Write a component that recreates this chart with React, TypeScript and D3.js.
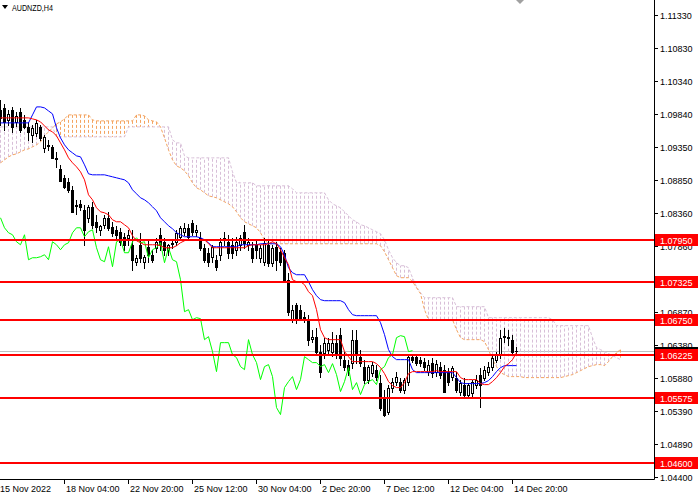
import React from "react";
import * as d3 from "d3";

// AUDNZD H4 candles, 15 Nov - 15 Dec 2022
const openPrices = [
  1.09905, 1.09935, 1.09755, 1.09905, 1.09725, 1.09875, 1.09755, 1.09650, 1.09530, 1.09560,
  1.09650, 1.09335, 1.09380, 1.09350, 1.09185, 1.09020, 1.08885, 1.08825, 1.08705, 1.08480,
  1.08495, 1.08405, 1.08285, 1.08450, 1.08225, 1.08105, 1.08180, 1.08285, 1.08150, 1.08105,
  1.08075, 1.08000, 1.07985, 1.07880, 1.07625, 1.07880, 1.07625, 1.07850, 1.07730, 1.07835,
  1.08030, 1.07925, 1.07805, 1.07895, 1.07925, 1.08000, 1.08075, 1.08135, 1.08210, 1.08075,
  1.07985, 1.07835, 1.07760, 1.07700, 1.07655, 1.07730, 1.07985, 1.07925, 1.07880, 1.07805,
  1.07880, 1.08075, 1.07880, 1.07835, 1.07880, 1.07685, 1.07625, 1.07880, 1.07610, 1.07850,
  1.07775, 1.07760, 1.07355, 1.06755, 1.06980, 1.06905, 1.06800, 1.06755, 1.06470, 1.06500,
  1.06275, 1.06260, 1.06305, 1.06275, 1.06410, 1.06530, 1.06155, 1.06080, 1.06110, 1.06455,
  1.06200, 1.06050, 1.05855, 1.05960, 1.06005, 1.05810, 1.05600, 1.05375, 1.05735, 1.05825,
  1.05825, 1.05705, 1.05825, 1.06200, 1.06200, 1.06155, 1.06125, 1.05975, 1.06110, 1.05975,
  1.06050, 1.06005, 1.05975, 1.05900, 1.05885, 1.05675, 1.05780, 1.05630, 1.05660, 1.05780,
  1.05930, 1.05885, 1.05975, 1.06050, 1.06155, 1.06230, 1.06500, 1.06485, 1.06455, 1.06290,
];
const highPrices = [
  1.10055, 1.09995, 1.09905, 1.09950, 1.09875, 1.09935, 1.09830, 1.09725, 1.09680, 1.09755,
  1.09680, 1.09530, 1.09455, 1.09380, 1.09275, 1.09080, 1.08930, 1.08885, 1.08765, 1.08555,
  1.08555, 1.08480, 1.08480, 1.08525, 1.08330, 1.08180, 1.08330, 1.08375, 1.08225, 1.08165,
  1.08135, 1.08060, 1.08105, 1.08105, 1.07730, 1.08060, 1.07730, 1.07955, 1.07805, 1.07985,
  1.08135, 1.07985, 1.07895, 1.07955, 1.08105, 1.08165, 1.08210, 1.08195, 1.08255, 1.08180,
  1.08075, 1.07895, 1.07835, 1.07880, 1.07730, 1.07985, 1.08075, 1.08030, 1.07985, 1.08000,
  1.08030, 1.08180, 1.07985, 1.07925, 1.07955, 1.07880, 1.07985, 1.07955, 1.07880, 1.07925,
  1.07835, 1.07805, 1.07460, 1.06980, 1.07010, 1.06980, 1.06875, 1.06830, 1.06605, 1.06635,
  1.06380, 1.06485, 1.06485, 1.06575, 1.06530, 1.06635, 1.06275, 1.06155, 1.06605, 1.06605,
  1.06305, 1.06155, 1.06080, 1.06125, 1.06080, 1.05930, 1.05705, 1.05780, 1.05885, 1.05975,
  1.05885, 1.05885, 1.06230, 1.06245, 1.06245, 1.06200, 1.06185, 1.06155, 1.06185, 1.06155,
  1.06125, 1.06080, 1.06035, 1.06065, 1.05975, 1.05855, 1.05885, 1.05810, 1.05855, 1.05930,
  1.06035, 1.06065, 1.06125, 1.06230, 1.06275, 1.06605, 1.06635, 1.06605, 1.06530, 1.06350,
];
const lowPrices = [
  1.09680, 1.09605, 1.09680, 1.09575, 1.09665, 1.09575, 1.09635, 1.09455, 1.09425, 1.09515,
  1.09455, 1.09275, 1.09305, 1.09185, 1.09050, 1.08840, 1.08735, 1.08675, 1.08375, 1.08345,
  1.08405, 1.07880, 1.08225, 1.08135, 1.08075, 1.08030, 1.08135, 1.08105, 1.08015, 1.07955,
  1.07880, 1.07805, 1.07880, 1.07505, 1.07580, 1.07625, 1.07535, 1.07625, 1.07625, 1.07775,
  1.07805, 1.07730, 1.07730, 1.07835, 1.07880, 1.07955, 1.08030, 1.07955, 1.08030, 1.08015,
  1.07805, 1.07625, 1.07565, 1.07625, 1.07505, 1.07655, 1.07880, 1.07685, 1.07685, 1.07730,
  1.07805, 1.07835, 1.07805, 1.07625, 1.07685, 1.07625, 1.07580, 1.07565, 1.07565, 1.07505,
  1.07580, 1.07325, 1.06830, 1.06725, 1.06710, 1.06755, 1.06725, 1.06380, 1.06425, 1.06230,
  1.05900, 1.06185, 1.06230, 1.06215, 1.06185, 1.06080, 1.06005, 1.05930, 1.06035, 1.06110,
  1.06065, 1.05810, 1.05810, 1.05915, 1.05855, 1.05405, 1.05315, 1.05345, 1.05675, 1.05780,
  1.05675, 1.05660, 1.05780, 1.06125, 1.06080, 1.06065, 1.06005, 1.05930, 1.05900, 1.05915,
  1.05885, 1.05675, 1.05780, 1.05855, 1.05675, 1.05630, 1.05615, 1.05600, 1.05615, 1.05735,
  1.05450, 1.05855, 1.05930, 1.06005, 1.06125, 1.06185, 1.06425, 1.06380, 1.06230, 1.06230,
];
const closePrices = [
  1.09785, 1.09725, 1.09845, 1.09650, 1.09815, 1.09605, 1.09650, 1.09575, 1.09635, 1.09710,
  1.09485, 1.09500, 1.09365, 1.09185, 1.09170, 1.08840, 1.08750, 1.08705, 1.08375, 1.08465,
  1.08450, 1.08105, 1.08450, 1.08180, 1.08150, 1.08165, 1.08285, 1.08135, 1.08060, 1.08030,
  1.07925, 1.07880, 1.08030, 1.07655, 1.07685, 1.07685, 1.07700, 1.07730, 1.07655, 1.07925,
  1.07880, 1.07805, 1.07880, 1.07910, 1.08060, 1.08135, 1.08135, 1.08000, 1.08075, 1.08105,
  1.07835, 1.07655, 1.07625, 1.07850, 1.07550, 1.07925, 1.07955, 1.07760, 1.07760, 1.07925,
  1.07985, 1.07910, 1.07925, 1.07685, 1.07805, 1.07835, 1.07910, 1.07610, 1.07835, 1.07655,
  1.07625, 1.07355, 1.06875, 1.06905, 1.06755, 1.06785, 1.06770, 1.06455, 1.06500, 1.06275,
  1.05975, 1.06410, 1.06410, 1.06410, 1.06230, 1.06185, 1.06050, 1.06005, 1.06455, 1.06230,
  1.06110, 1.05855, 1.06050, 1.06080, 1.05900, 1.05435, 1.05330, 1.05735, 1.05825, 1.05900,
  1.05705, 1.05855, 1.06200, 1.06155, 1.06110, 1.06110, 1.06050, 1.06080, 1.05960, 1.06095,
  1.05930, 1.05675, 1.05825, 1.06035, 1.05705, 1.05810, 1.05630, 1.05780, 1.05825, 1.05855,
  1.05780, 1.06005, 1.06050, 1.06185, 1.06230, 1.06485, 1.06515, 1.06500, 1.06275, 1.06290,
];

// Ichimoku lines
const tenkan = [
  1.09785, 1.09785, 1.09785, 1.09785, 1.09785, 1.09785, 1.09785, 1.09785, 1.09770, 1.09755,
  1.09725, 1.09665, 1.09605, 1.09575, 1.09515, 1.09410, 1.09305, 1.09185, 1.09110, 1.09050,
  1.08975, 1.08855, 1.08630, 1.08555, 1.08435, 1.08375, 1.08360, 1.08330, 1.08255, 1.08225,
  1.08225, 1.08180, 1.08135, 1.08015, 1.07940, 1.07910, 1.07880, 1.07880, 1.07880, 1.07880,
  1.07865, 1.07835, 1.07835, 1.07835, 1.07865, 1.07910, 1.07940, 1.07955, 1.07955, 1.07955,
  1.07955, 1.07955, 1.07895, 1.07835, 1.07835, 1.07835, 1.07835, 1.07835, 1.07835, 1.07835,
  1.07835, 1.07835, 1.07865, 1.07880, 1.07880, 1.07880, 1.07880, 1.07895, 1.07925, 1.07895,
  1.07805, 1.07685, 1.07580, 1.07355, 1.07325, 1.07325, 1.07280, 1.07175, 1.07115, 1.06905,
  1.06605, 1.06485, 1.06455, 1.06455, 1.06455, 1.06455, 1.06275, 1.06200, 1.06125, 1.06125,
  1.06125, 1.06125, 1.06125, 1.06125, 1.06095, 1.06035, 1.05945, 1.05825, 1.05765, 1.05735,
  1.05735, 1.05810, 1.05945, 1.05975, 1.05975, 1.05975, 1.05975, 1.05975, 1.05975, 1.05990,
  1.05975, 1.05975, 1.05975, 1.05975, 1.05975, 1.05885, 1.05855, 1.05855, 1.05855, 1.05855,
  1.05795, 1.05780, 1.05780, 1.05825, 1.05885, 1.05960, 1.06050, 1.06095, 1.06155, 1.06260,
];
const kijun = [
  1.09710, 1.09710, 1.09710, 1.09710, 1.09710, 1.09710, 1.09710, 1.09710, 1.09830, 1.09950,
  1.09950, 1.09935, 1.09890, 1.09845, 1.09635, 1.09485, 1.09380, 1.09305, 1.09260, 1.09215,
  1.09200, 1.09080, 1.08945, 1.08930, 1.08930, 1.08930, 1.08930, 1.08915, 1.08900, 1.08885,
  1.08870, 1.08855, 1.08810, 1.08705, 1.08645, 1.08585, 1.08555, 1.08510, 1.08450, 1.08390,
  1.08285, 1.08225, 1.08165, 1.08120, 1.08060, 1.08030, 1.08000, 1.08000, 1.08000, 1.08000,
  1.07985, 1.07955, 1.07910, 1.07850, 1.07850, 1.07850, 1.07850, 1.07850, 1.07850, 1.07850,
  1.07880, 1.07880, 1.07880, 1.07880, 1.07880, 1.07895, 1.07895, 1.07895, 1.07895, 1.07895,
  1.07850, 1.07730, 1.07535, 1.07460, 1.07430, 1.07430, 1.07430, 1.07325, 1.07205, 1.07115,
  1.07055, 1.07040, 1.07040, 1.07040, 1.07040, 1.07040, 1.07010, 1.06905, 1.06830, 1.06815,
  1.06815, 1.06815, 1.06815, 1.06815, 1.06815, 1.06710, 1.06530, 1.06305, 1.06200, 1.06155,
  1.06155, 1.06155, 1.06155, 1.06005, 1.05960, 1.05960, 1.05960, 1.05960, 1.05960, 1.05960,
  1.05960, 1.05960, 1.05960, 1.05960, 1.05885, 1.05810, 1.05795, 1.05795, 1.05795, 1.05795,
  1.05795, 1.05810, 1.05840, 1.05900, 1.05975, 1.06035, 1.06065, 1.06065, 1.06065, 1.06065,
];
const senkouA = [
  1.09110, 1.09155, 1.09200, 1.09230, 1.09245, 1.09275, 1.09305, 1.09320, 1.09350, 1.09380,
  1.09425, 1.09515, 1.09575, 1.09635, 1.09695, 1.09725, 1.09770, 1.09830, 1.09830, 1.09830,
  1.09830, 1.09830, 1.09830, 1.09755, 1.09740, 1.09740, 1.09740, 1.09740, 1.09740, 1.09740,
  1.09740, 1.09740, 1.09740, 1.09740, 1.09830, 1.09830, 1.09815, 1.09755, 1.09740, 1.09725,
  1.09650, 1.09485, 1.09305, 1.09155, 1.09065, 1.09035, 1.08990, 1.08915, 1.08810, 1.08735,
  1.08705, 1.08660, 1.08615, 1.08600, 1.08585, 1.08555, 1.08525, 1.08495, 1.08450, 1.08375,
  1.08285, 1.08225, 1.08195, 1.08165, 1.08135, 1.08060, 1.07955, 1.07895, 1.07895, 1.07895,
  1.07895, 1.07895, 1.07895, 1.07895, 1.07895, 1.07895, 1.07895, 1.07895, 1.07895, 1.07895,
  1.07895, 1.07895, 1.07895, 1.07895, 1.07895, 1.07895, 1.07895, 1.07895, 1.07895, 1.07895,
  1.07895, 1.07895, 1.07895, 1.07895, 1.07895, 1.07865, 1.07775, 1.07655, 1.07535, 1.07415,
  1.07385, 1.07385, 1.07385, 1.07325, 1.07235, 1.07145, 1.06905, 1.06755, 1.06755, 1.06755,
  1.06755, 1.06755, 1.06755, 1.06755, 1.06605, 1.06485, 1.06455, 1.06455, 1.06455, 1.06455,
  1.06455, 1.06425, 1.06305, 1.06155, 1.06050, 1.05960, 1.05930, 1.05900, 1.05900, 1.05900,
  1.05900, 1.05885, 1.05885, 1.05885, 1.05885, 1.05885, 1.05885, 1.05885, 1.05885, 1.05885,
  1.05885, 1.05900, 1.05915, 1.05930, 1.05960, 1.05990, 1.06020, 1.06050, 1.06065, 1.06080,
  1.06080, 1.06065, 1.06125, 1.06200, 1.06260, 1.06305,
];
const senkouB = [
  1.09650, 1.09650, 1.09650, 1.09650, 1.09650, 1.09650, 1.09650, 1.09650, 1.09650, 1.09650,
  1.09650, 1.09650, 1.09650, 1.09650, 1.09500, 1.09500, 1.09500, 1.09500, 1.09500, 1.09500,
  1.09500, 1.09500, 1.09500, 1.09500, 1.09500, 1.09500, 1.09500, 1.09500, 1.09500, 1.09500,
  1.09500, 1.09500, 1.09650, 1.09650, 1.09650, 1.09650, 1.09650, 1.09650, 1.09650, 1.09650,
  1.09650, 1.09650, 1.09650, 1.09455, 1.09410, 1.09410, 1.09215, 1.09185, 1.09185, 1.09185,
  1.09185, 1.09185, 1.09185, 1.09185, 1.09185, 1.09185, 1.09185, 1.09185, 1.08975, 1.08810,
  1.08810, 1.08810, 1.08810, 1.08810, 1.08765, 1.08765, 1.08765, 1.08765, 1.08765, 1.08765,
  1.08765, 1.08765, 1.08765, 1.08720, 1.08660, 1.08660, 1.08660, 1.08660, 1.08660, 1.08660,
  1.08660, 1.08660, 1.08555, 1.08495, 1.08465, 1.08435, 1.08375, 1.08315, 1.08255, 1.08225,
  1.08180, 1.08165, 1.08135, 1.08105, 1.08075, 1.08045, 1.07955, 1.07805, 1.07685, 1.07610,
  1.07565, 1.07565, 1.07535, 1.07385, 1.07250, 1.07160, 1.07085, 1.07085, 1.07085, 1.07085,
  1.07085, 1.07085, 1.07085, 1.07085, 1.06950, 1.06950, 1.06950, 1.06950, 1.06950, 1.06950,
  1.06950, 1.06950, 1.06785, 1.06785, 1.06785, 1.06785, 1.06785, 1.06785, 1.06785, 1.06785,
  1.06785, 1.06785, 1.06785, 1.06785, 1.06785, 1.06785, 1.06785, 1.06785, 1.06755, 1.06665,
  1.06665, 1.06665, 1.06665, 1.06665, 1.06665, 1.06665, 1.06665, 1.06665, 1.06485, 1.06335,
  1.06305, 1.06275, 1.06245, 1.06215, 1.06185, 1.06155,
];

const levels = [1.0795, 1.07325, 1.0675, 1.06225, 1.05575, 1.046];
// 1.07370 sits fully under the 1.07325 level label, so it is left out
const priceTicks = [
  1.1133, 1.1083, 1.1034, 1.0984, 1.0935, 1.0885, 1.0836, 1.0786,
  1.0687, 1.0638, 1.0588, 1.0539, 1.0489, 1.044,
];
const timeLabels = [
  "15 Nov 2022", "18 Nov 04:00", "22 Nov 20:00", "25 Nov 12:00", "30 Nov 04:00",
  "2 Dec 20:00", "7 Dec 12:00", "12 Dec 04:00", "14 Dec 20:00",
];
const timeLabelBars = [0, 16, 32, 48, 64, 80, 96, 112, 128];

const App: React.FC = () => {
  const width = 700;
  const height = 500;
  const plotRight = 654;
  const plotBottom = 479;
  const font = "'Liberation Sans', Arial, sans-serif";

  const x = d3.scaleLinear([0, 155], [0, 620]);
  const y = d3.scaleLinear([1.044, 1.1133], [476.5, 15]);
  const px = (i: number) => Math.round(x(i));
  const line = d3.line<number>((_, i) => px(i) + 0.5, (d) => y(d));

  const chikou = closePrices.slice(26);
  const lastClose = closePrices[closePrices.length - 1];
  const bidY = Math.round(y(lastClose)) + 0.5;

  return (
    <svg width={width} height={height} fontFamily={font}
      style={{ position: "absolute", left: 0, top: 0, background: "#fff" }}>
      <defs>
        <clipPath id="plot"><rect x={0} y={0} width={plotRight} height={plotBottom} /></clipPath>
      </defs>
      <g clipPath="url(#plot)">
        <line x1={0} x2={plotRight} y1={bidY} y2={bidY} stroke="#c0c0c0" />
        {/* kumo hatching */}
        <g strokeDasharray="3,2">
          {senkouA.map((a, i) => (
            <line key={i} x1={px(i) + 0.5} x2={px(i) + 0.5} y1={y(a)} y2={y(senkouB[i])}
              stroke={a >= senkouB[i] ? "#f4a460" : "#d8bfd8"} />
          ))}
        </g>
        <path d={line(senkouB) ?? undefined} fill="none" stroke="#d8bfd8" strokeDasharray="3,2" />
        <path d={line(senkouA) ?? undefined} fill="none" stroke="#f4a460" strokeDasharray="3,2" />
        {/* candles */}
        <g>
          {closePrices.map((c, i) => {
            const o = openPrices[i];
            const X = px(i);
            const yo = Math.round(y(o));
            const yc = Math.round(y(c));
            const wick = (
              <line x1={X + 0.5} x2={X + 0.5} y1={Math.round(y(highPrices[i]))} y2={Math.round(y(lowPrices[i])) + 1}
                stroke="#000" />
            );
            let body;
            if (yo === yc) {
              body = <line x1={X - 1} x2={X + 2} y1={yo + 0.5} y2={yo + 0.5} stroke="#000" />;
            } else if (c > o) {
              body = <rect x={X - 0.5} y={yc + 0.5} width={2} height={yo - yc} fill="#fff" stroke="#000" />;
            } else {
              body = <rect x={X - 1} y={yo} width={3} height={yc - yo + 1} fill="#000" />;
            }
            return <g key={i}>{wick}{body}</g>;
          })}
        </g>
        <path d={line(chikou) ?? undefined} fill="none" stroke="#00ff00" />
        <path d={line(kijun) ?? undefined} fill="none" stroke="#0000ff" />
        <path d={line(tenkan) ?? undefined} fill="none" stroke="#ff0000" />
        {levels.map((lv) => (
          <line key={lv} x1={0} x2={plotRight} y1={Math.round(y(lv))} y2={Math.round(y(lv))}
            stroke="#ff0000" strokeWidth={2} />
        ))}
      </g>

      {/* title */}
      <polygon points="2,5 8,5 5,9" fill="#000" />
      <text x={12} y={11} fontSize={8.5} fill="#000" textLength={41} lengthAdjust="spacingAndGlyphs">AUDNZD,H4</text>
      {/* chart shift marker */}
      <polygon points={`${px(130) - 4},0 ${px(130) + 4},0 ${px(130)},4`} fill="#a0a0a0" />

      {/* price axis */}
      <line x1={plotRight + 0.5} x2={plotRight + 0.5} y1={0} y2={plotBottom + 0.5} stroke="#000" />
      {priceTicks.map((t) => {
        const ty = Math.round(y(t)) + 0.5;
        return (
          <g key={t}>
            <line x1={plotRight} x2={plotRight + 4} y1={ty} y2={ty} stroke="#000" />
            <text x={660} y={ty + 3.5} fontSize={9} fill="#000">{t.toFixed(5)}</text>
          </g>
        );
      })}
      <rect x={655} y={bidY - 4.5} width={43} height={8} fill="#000" />
      {levels.map((lv) => {
        const ly = Math.round(y(lv));
        return (
          <g key={lv}>
            <rect x={655} y={ly - 6} width={43} height={12} fill="#ff0000" />
            <text x={660} y={ly + 3.5} fontSize={9} fill="#fff">{lv.toFixed(5)}</text>
          </g>
        );
      })}

      {/* time axis */}
      <line x1={0} x2={plotRight + 0.5} y1={plotBottom + 0.5} y2={plotBottom + 0.5} stroke="#000" />
      {timeLabels.map((lab, k) => {
        const tx = px(timeLabelBars[k]);
        return (
          <g key={lab}>
            {k > 0 && <line x1={tx + 0.5} x2={tx + 0.5} y1={plotBottom} y2={plotBottom + 5} stroke="#000" />}
            <text x={k > 0 ? tx + 2 : 0} y={492} fontSize={9} fill="#000">{lab}</text>
          </g>
        );
      })}
    </svg>
  );
};

export default App;
